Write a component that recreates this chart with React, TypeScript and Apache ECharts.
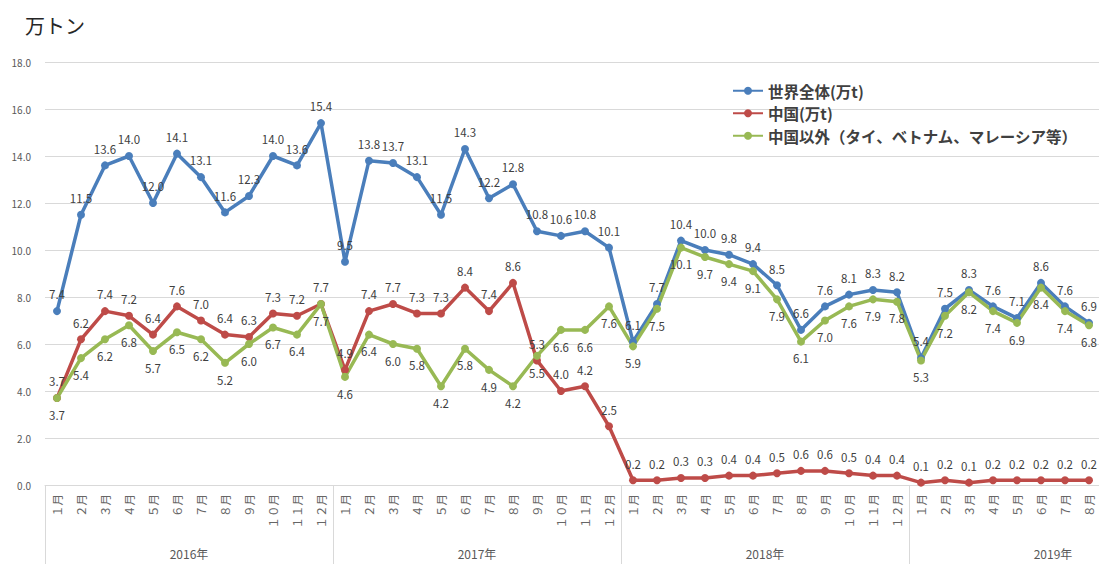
import React, { useEffect, useRef } from "react";
import * as echarts from "echarts";

const months = ["１月", "２月", "３月", "４月", "５月", "６月", "７月", "８月", "９月", "１０月", "１１月", "１２月"];
const years = ["2016年", "2017年", "2018年", "2019年"];

const seriesNames = ["世界全体(万t)", "中国(万t)", "中国以外（タイ、ベトナム、マレーシア等）"];

const world = [
  7.4, 11.5, 13.6, 14.0, 12.0, 14.1, 13.1, 11.6, 12.3, 14.0, 13.6, 15.4,
  9.5, 13.8, 13.7, 13.1, 11.5, 14.3, 12.2, 12.8, 10.8, 10.6, 10.8, 10.1,
  6.1, 7.7, 10.4, 10.0, 9.8, 9.4, 8.5, 6.6, 7.6, 8.1, 8.3, 8.2,
  5.4, 7.5, 8.3, 7.6, 7.1, 8.6, 7.6, 6.9,
];
const china = [
  3.7, 6.2, 7.4, 7.2, 6.4, 7.6, 7.0, 6.4, 6.3, 7.3, 7.2, 7.7,
  4.9, 7.4, 7.7, 7.3, 7.3, 8.4, 7.4, 8.6, 5.3, 4.0, 4.2, 2.5,
  0.2, 0.2, 0.3, 0.3, 0.4, 0.4, 0.5, 0.6, 0.6, 0.5, 0.4, 0.4,
  0.1, 0.2, 0.1, 0.2, 0.2, 0.2, 0.2, 0.2,
];
const others = [
  3.7, 5.4, 6.2, 6.8, 5.7, 6.5, 6.2, 5.2, 6.0, 6.7, 6.4, 7.7,
  4.6, 6.4, 6.0, 5.8, 4.2, 5.8, 4.9, 4.2, 5.5, 6.6, 6.6, 7.6,
  5.9, 7.5, 10.1, 9.7, 9.4, 9.1, 7.9, 6.1, 7.0, 7.6, 7.9, 7.8,
  5.3, 7.2, 8.2, 7.4, 6.9, 8.4, 7.4, 6.8,
];

const yMin = 0;
const yMax = 18;
const yStep = 2;

const FONT = "'Noto Sans CJK JP', 'Noto Sans', sans-serif";

export default function App() {
  const ref = useRef<HTMLDivElement>(null);

  useEffect(() => {
    if (!ref.current) return;
    const chart = echarts.init(ref.current, null, { renderer: "svg" });
    const categories = years.flatMap(() => months);
    const colors = ["#4A7EBB", "#BE4B48", "#98B954"];
    const labelStyle = (pos: string) => ({
      show: true,
      position: pos,
      distance: 7,
      color: "#404040",
      fontSize: 11.5,
      fontFamily: FONT,
      formatter: (p: any) => Number(p.value).toFixed(1),
    });
    const mk = (name: string, data: number[], color: string, pos: string) => ({
      name,
      type: "line",
      xAxisIndex: 0,
      data,
      symbol: "circle",
      symbolSize: 8,
      lineStyle: { color, width: 3.5 },
      itemStyle: { color },
      label: labelStyle(pos),
    });
    chart.setOption({
      animation: false,
      color: colors,
      textStyle: { fontFamily: FONT },
      title: {
        text: "万トン",
        left: 20,
        top: 10,
        textStyle: { fontSize: 20, fontWeight: "normal", color: "#262626", fontFamily: FONT },
      },
      legend: {
        orient: "vertical",
        left: 727,
        top: 78,
        itemWidth: 30,
        itemHeight: 10,
        itemGap: 7,
        data: seriesNames,
        textStyle: { fontSize: 15.5, fontWeight: "bold", color: "#404040", fontFamily: FONT },
      },
      grid: { left: 45, top: 62, right: 3, bottom: 79 },
      xAxis: [
        {
          type: "category",
          data: categories,
          boundaryGap: true,
          axisLine: { show: true, lineStyle: { color: "#D9D9D9", width: 1 } },
          axisTick: {
            show: true,
            interval: (i: number) => i % 12 === 0,
            length: 80,
            lineStyle: { color: "#D9D9D9", width: 1 },
          },
          axisLabel: {
            interval: 0,
            rotate: 90,
            margin: 9,
            fontSize: 11.5,
            color: "#666666",
            fontFamily: FONT,
            formatter: (v: string, i: number) => (i < world.length ? v : ""),
          },
        },
        {
          type: "category",
          data: years,
          position: "bottom",
          axisLine: { show: false },
          axisTick: { show: false },
          axisLabel: { margin: 62, fontSize: 12, color: "#595959", fontFamily: FONT },
        },
      ],
      yAxis: {
        type: "value",
        min: yMin,
        max: yMax,
        interval: yStep,
        axisLine: { show: false },
        axisTick: { show: false },
        axisLabel: {
          margin: 14,
          fontSize: 10,
          color: "#595959",
          fontFamily: FONT,
          formatter: (v: number) => v.toFixed(1),
        },
        splitLine: { lineStyle: { color: "#D9D9D9", width: 1 } },
      },
      series: [
        mk(seriesNames[0], world, colors[0], "top"),
        mk(seriesNames[1], china, colors[1], "top"),
        mk(seriesNames[2], others, colors[2], "bottom"),
      ],
    });
    return () => chart.dispose();
  }, []);

  return (
    <div
      style={{ position: "fixed", left: 0, top: 0, width: 1099, height: 564, overflow: "hidden", background: "#fff" }}
    >
      <div ref={ref} style={{ width: 1200, height: 564 }} />
    </div>
  );
}
